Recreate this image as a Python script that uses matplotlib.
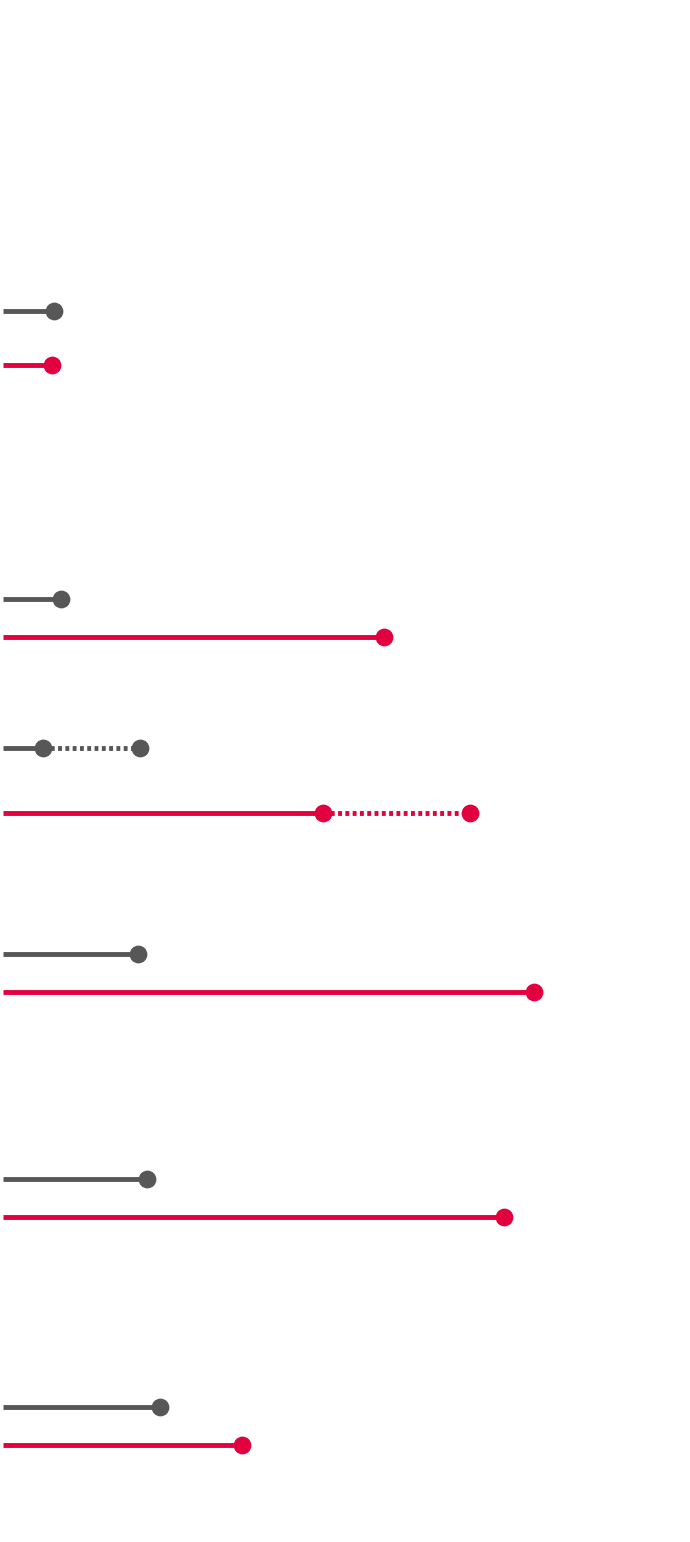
import matplotlib
matplotlib.use("Agg")
import matplotlib.pyplot as plt

# values on a 0-100 scale, one pair (gray, red) per group
gray_solid = [7.4, 8.4, 5.8, 19.7, 21.0, 22.9]
gray_dotted = [None, None, 19.9, None, None, None]
red_solid = [7.1, 55.5, 46.6, 77.3, 72.9, 34.8]
red_dotted = [None, None, 68.0, None, None, None]

# row positions in pixels (layout only)
gray_rows = [311, 599, 748, 954, 1179, 1407]
red_rows = [365, 637, 813, 992, 1217, 1445]

GRAY = "#575757"
RED = "#E2003F"
LW = 3.5
MS = 12.8

fig = plt.figure(figsize=(6.9, 15.42), dpi=100)
ax = fig.add_axes([3 / 690, 0, 687 / 690, 1])
ax.set_xlim(0, 100)
ax.set_ylim(1542, 0)
ax.axis("off")


def draw(solid, dotted, rows, color):
    for v, d, y in zip(solid, dotted, rows):
        ax.plot([0, v], [y, y], color=color, lw=LW, solid_capstyle="butt", zorder=2)
        ax.plot([v], [y], "o", color=color, ms=MS, mec="none", zorder=3)
        if d is not None:
            ax.plot([v, d], [y, y], color=color, lw=LW, linestyle=(0, (0.8, 0.7)),
                    dash_capstyle="butt", zorder=2)
            ax.plot([d], [y], "o", color=color, ms=MS, mec="none", zorder=3)


draw(gray_solid, gray_dotted, gray_rows, GRAY)
draw(red_solid, red_dotted, red_rows, RED)

fig.savefig("out.png", dpi=100, facecolor="white")
